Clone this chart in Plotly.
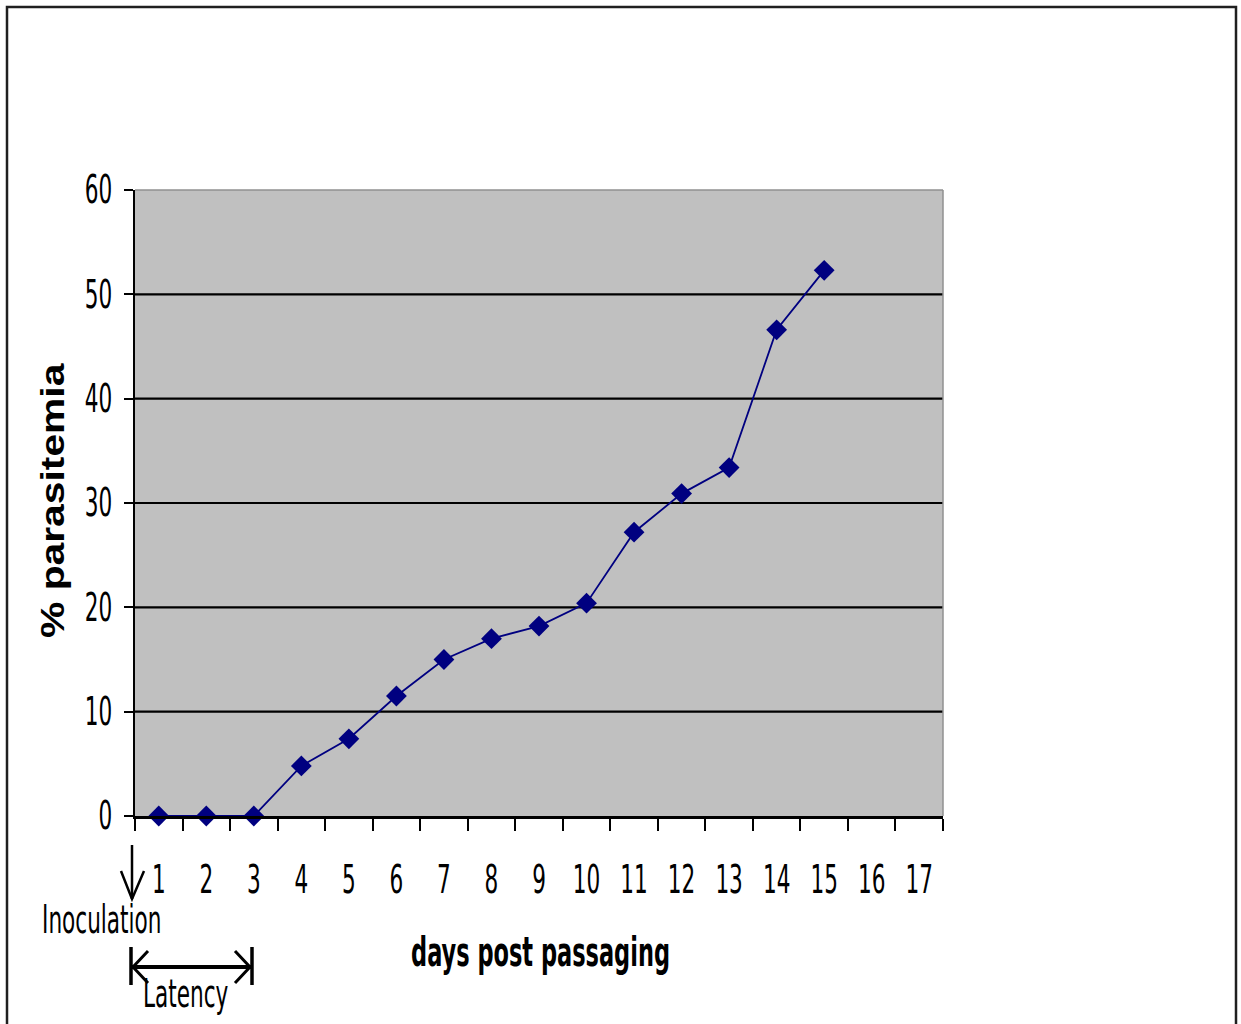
import plotly.graph_objects as go

# Parasitemia over time after passaging
day_labels = [str(d) for d in range(1, 18)]
days_measured = [str(d) for d in range(1, 16)]
parasitemia = [0, 0, 0, 4.8, 7.4, 11.5, 15.0, 17.0, 18.2, 20.4, 27.2, 30.9, 33.4, 46.6, 52.3]
y_ticks = [0, 10, 20, 30, 40, 50, 60]
grid_levels = [10, 20, 30, 40, 50]

W, H = 1241, 1024
L, R, T, B = 135, 943, 190, 816  # plot area in pixels

NARROW = "DejaVu Sans Condensed, Liberation Sans Narrow, sans-serif"
NAVY = "#000080"


def px(x):
    return (x - L) / (R - L)


def py(y):
    return (B - y) / (B - T)


fig = go.Figure()
fig.add_trace(go.Scatter(
    x=days_measured, y=parasitemia, mode="lines+markers",
    line=dict(color=NAVY, width=1.8),
    marker=dict(symbol="diamond", size=16, color=NAVY),
    showlegend=False, cliponaxis=False,
))

shapes = []
# horizontal gridlines
for g in grid_levels:
    shapes.append(dict(type="line", xref="paper", yref="y", x0=0, x1=1, y0=g, y1=g,
                       line=dict(color="black", width=2.2), layer="below"))
# grey top and right border of the plot area
shapes.append(dict(type="line", xref="paper", yref="paper", x0=0, x1=1, y0=1, y1=1,
                   line=dict(color="#909090", width=1.5)))
shapes.append(dict(type="line", xref="paper", yref="paper", x0=1, x1=1, y0=0, y1=1,
                   line=dict(color="#909090", width=1.5)))
# outer frame
shapes.append(dict(type="rect", xref="paper", yref="paper",
                   x0=px(7), x1=px(1236), y0=py(1040), y1=py(7),
                   line=dict(color="#202020", width=2.5)))


def path(points):
    return "M " + " L ".join(f"{px(a):.5f},{py(b):.5f}" for a, b in points)


arrow_line = dict(color="black", width=2.5)
# inoculation down arrow
shapes.append(dict(type="path", xref="paper", yref="paper",
                   path=path([(132, 845), (132, 899)]), line=arrow_line))
shapes.append(dict(type="path", xref="paper", yref="paper",
                   path=path([(121, 871), (132, 899), (144, 871)]), line=arrow_line))
# latency span arrow
shapes.append(dict(type="path", xref="paper", yref="paper",
                   path=path([(132, 967), (251, 967)]), line=dict(color="black", width=4)))
shapes.append(dict(type="path", xref="paper", yref="paper",
                   path=path([(131, 947), (131, 985)]), line=dict(color="black", width=3.5)))
shapes.append(dict(type="path", xref="paper", yref="paper",
                   path=path([(252, 947), (252, 985)]), line=dict(color="black", width=3.5)))
shapes.append(dict(type="path", xref="paper", yref="paper",
                   path=path([(148, 951), (133, 967), (148, 983)]), line=dict(color="black", width=3)))
shapes.append(dict(type="path", xref="paper", yref="paper",
                   path=path([(235, 951), (250, 967), (235, 983)]), line=dict(color="black", width=3)))

annotations = [
    dict(text="% parasitemia", x=px(52), y=py(500), xref="paper", yref="paper",
         textangle=-90, showarrow=False, xanchor="center", yanchor="middle",
         font=dict(family="Liberation Sans, Arial, sans-serif", size=34, color="black",
                   weight="bold")),
    dict(text="days post passaging", x=px(540), y=py(953), xref="paper", yref="paper",
         showarrow=False, xanchor="center", yanchor="middle",
         font=dict(family=NARROW, size=25, color="black", weight="bold")),
    dict(text="Inoculation", x=px(101), y=py(920), xref="paper", yref="paper",
         showarrow=False, xanchor="center", yanchor="middle",
         font=dict(family=NARROW, size=24, color="black")),
    dict(text="Latency", x=px(186), y=py(994), xref="paper", yref="paper",
         showarrow=False, xanchor="center", yanchor="middle",
         font=dict(family=NARROW, size=24, color="black")),
]

fig.update_layout(
    width=W, height=H,
    margin=dict(l=L, r=W - R, t=T, b=H - B, pad=0),
    paper_bgcolor="white", plot_bgcolor="#C0C0C0",
    shapes=shapes, annotations=annotations,
    xaxis=dict(type="category", categoryorder="array", categoryarray=day_labels,
               tickvals=day_labels, range=[-0.5, 16.5], tickson="boundaries",
               ticks="outside", ticklen=12, tickwidth=2, tickcolor="black",
               showline=True, linecolor="black", linewidth=2.5, showgrid=False,
               zeroline=False, ticklabelstandoff=41,
               tickfont=dict(family=NARROW, size=24, color="black")),
    yaxis=dict(range=[0, 60], tickvals=y_ticks, ticks="outside", ticklen=9,
               tickwidth=2, tickcolor="black", showline=True, linecolor="black",
               linewidth=2, showgrid=False, zeroline=False, ticklabelstandoff=7,
               tickfont=dict(family=NARROW, size=24, color="black")),
)

# Tall, narrow lettering: stretch text elements about their own centres.
stretch_js = """
(function () {
  var gd = document.getElementById('{plot_id}');
  if (!gd) return;
  function stretch(el, sx, sy) {
    var cur = el.getAttribute('transform') || '';
    if (el.getAttribute('data-st') === cur && cur !== '') return;
    var b = el.getBBox();
    var cx = b.x + b.width / 2, cy = b.y + b.height / 2;
    var t = cur + ' translate(' + cx + ',' + cy + ') scale(' + sx + ',' + sy +
            ') translate(' + (-cx) + ',' + (-cy) + ')';
    el.setAttribute('transform', t);
    el.setAttribute('data-st', t);
  }
  function apply() {
    gd.querySelectorAll('.xtick text, .ytick text').forEach(function (e) {
      stretch(e, 1, 1.6);
    });
    gd.querySelectorAll('.annotation-text').forEach(function (e, i) {
      if (i === 0) stretch(e, 1.2, 1); else stretch(e, 1, 1.6);
    });
  }
  apply();
  setTimeout(apply, 0);
  setTimeout(apply, 200);
  if (gd.on) gd.on('plotly_afterplot', apply);
})();
"""

fig.write_html("out.html", post_script=stretch_js)
